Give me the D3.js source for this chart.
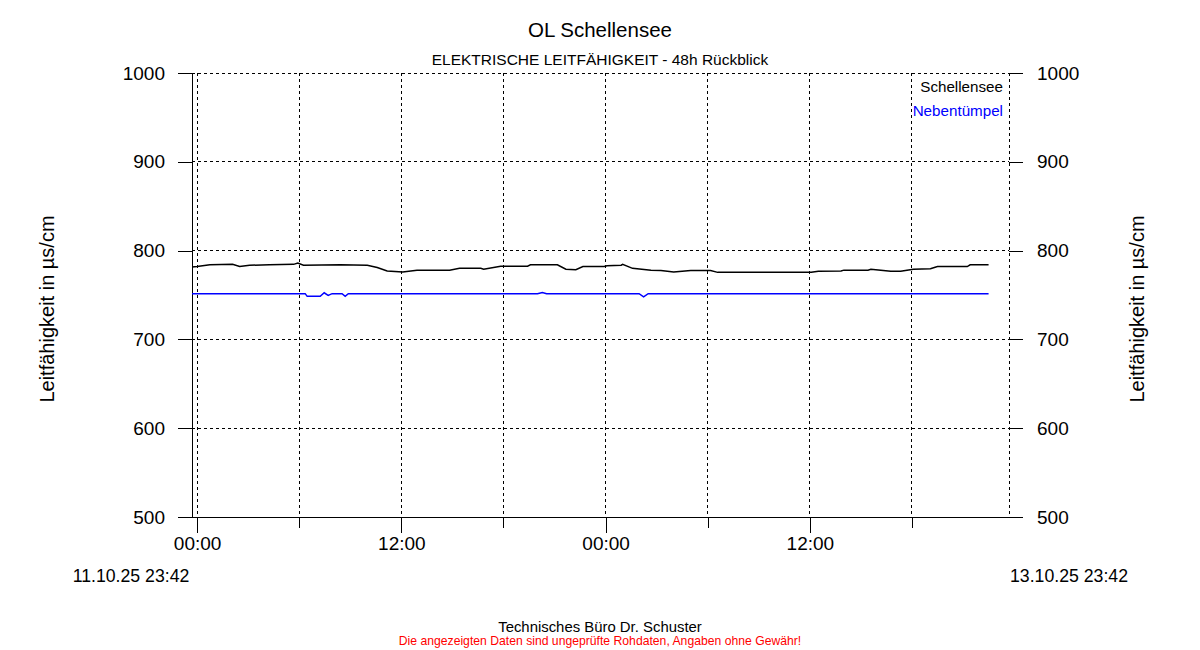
<!DOCTYPE html>
<html>
<head>
<meta charset="utf-8">
<script src="https://cdn.jsdelivr.net/npm/d3@7"></script>
<style>
  body { margin: 0; background: #fff; }
  svg { font-family: Arial, "Liberation Sans", sans-serif; }
  .grid line { stroke: #000; stroke-dasharray: 3,3; shape-rendering: crispEdges; }
  .axis path, .axis line { stroke: #000; shape-rendering: crispEdges; }
  .axis text { fill: #000; }
</style>
</head>
<body>
<div id="chart"></div>
<script>
// time range of the chart (48h look back)
let rangeStart = '2025-10-11T23:42';
let rangeEnd = '2025-10-13T23:42';

// Schellensee (black)
let schellenseeTimes = [
    '2025-10-11T23:42', '2025-10-12T00:00', '2025-10-12T00:45', '2025-10-12T02:05', '2025-10-12T02:30',
    '2025-10-12T03:05', '2025-10-12T04:15', '2025-10-12T05:40', '2025-10-12T05:55', '2025-10-12T06:15',
    '2025-10-12T08:25', '2025-10-12T10:00', '2025-10-12T10:35', '2025-10-12T11:10', '2025-10-12T12:05',
    '2025-10-12T12:55', '2025-10-12T14:50', '2025-10-12T15:25', '2025-10-12T16:40', '2025-10-12T16:50',
    '2025-10-12T17:50', '2025-10-12T19:25', '2025-10-12T19:35', '2025-10-12T21:10', '2025-10-12T21:40',
    '2025-10-12T22:15', '2025-10-12T22:40', '2025-10-12T23:55', '2025-10-13T00:05', '2025-10-13T00:55',
    '2025-10-13T01:00', '2025-10-13T01:35', '2025-10-13T02:40', '2025-10-13T03:15', '2025-10-13T04:00',
    '2025-10-13T05:00', '2025-10-13T06:10', '2025-10-13T06:35', '2025-10-13T08:30', '2025-10-13T12:05',
    '2025-10-13T12:30', '2025-10-13T13:50', '2025-10-13T14:00', '2025-10-13T15:25', '2025-10-13T15:35',
    '2025-10-13T16:10', '2025-10-13T16:45', '2025-10-13T17:20', '2025-10-13T18:05', '2025-10-13T19:05',
    '2025-10-13T19:30', '2025-10-13T21:15', '2025-10-13T21:25', '2025-10-13T22:30'
];
let schellenseeValues = [
    781.5, 782, 784, 784.5, 782,
    783.5, 784, 784.5, 786, 783.5,
    784, 783.5, 781, 777, 776,
    778, 778, 780, 780, 779,
    782.5, 782.5, 784, 784, 779,
    778.5, 782, 782, 783, 783.5,
    784.5, 780, 778, 777.5, 776,
    777.5, 777.5, 775.5, 775.5, 775.5,
    776.7, 777, 778, 778, 779,
    778, 776.7, 776.7, 779, 779.5,
    782, 782, 784, 784
];

// Nebentuempel (blue)
let nebenTimes = [
    '2025-10-11T23:42', '2025-10-12T06:21', '2025-10-12T06:28', '2025-10-12T07:14', '2025-10-12T07:28',
    '2025-10-12T07:42', '2025-10-12T07:56', '2025-10-12T08:31', '2025-10-12T08:42', '2025-10-12T08:53',
    '2025-10-12T20:00', '2025-10-12T20:17', '2025-10-12T20:32', '2025-10-13T01:58', '2025-10-13T02:14',
    '2025-10-13T02:30', '2025-10-13T22:30'
];
let nebenValues = [
    751.5, 751.5, 748.5, 748.5, 752.5,
    749.5, 751.5, 751.5, 748.5, 751.5,
    751.5, 752.8, 751.5, 751.5, 748,
    751.5, 751.5
];

let yTicks = [500, 600, 700, 800, 900, 1000];

let width = 1200, height = 650;
let plotLeft = 192, plotRight = 1009, plotTop = 73, plotBottom = 517;

let svg = d3.select('#chart')
    .append('svg')
    .attr('width', width)
    .attr('height', height);

let parse = d3.timeParse('%Y-%m-%dT%H:%M');

let x = d3.scaleTime()
    .domain([parse(rangeStart), parse(rangeEnd)])
    .range([plotLeft, plotRight]);
let y = d3.scaleLinear()
    .domain([500, 1000])
    .range([plotBottom, plotTop]);

let sixHours = x.ticks(d3.timeHour.every(6));
let twelveHours = x.ticks(d3.timeHour.every(12));

// grid
let grid = svg.append('g').attr('class', 'grid');
grid.selectAll('.v')
    .data(sixHours)
    .enter().append('line')
    .attr('x1', d => x(d)).attr('x2', d => x(d))
    .attr('y1', plotTop).attr('y2', plotBottom);
grid.append('line')
    .attr('x1', plotRight).attr('x2', plotRight)
    .attr('y1', plotTop).attr('y2', plotBottom);
grid.selectAll('.h')
    .data(yTicks.filter(d => d > 500))
    .enter().append('line')
    .attr('x1', plotLeft).attr('x2', plotRight)
    .attr('y1', d => y(d)).attr('y2', d => y(d));

// axes
let yLeft = svg.append('g')
    .attr('class', 'axis')
    .attr('transform', 'translate(' + plotLeft + ',0)')
    .call(d3.axisLeft(y).tickValues(yTicks).tickFormat(d3.format('d'))
        .tickSize(14).tickSizeOuter(0).tickPadding(13));
let yRight = svg.append('g')
    .attr('class', 'axis')
    .attr('transform', 'translate(' + plotRight + ',0)')
    .call(d3.axisRight(y).tickValues(yTicks).tickFormat(d3.format('d'))
        .tickSize(14).tickSizeOuter(0).tickPadding(14));
yRight.select('.domain').remove();
svg.selectAll('.axis text').style('font-size', '19px');

let xMinor = svg.append('g')
    .attr('class', 'axis')
    .attr('transform', 'translate(0,' + plotBottom + ')')
    .call(d3.axisBottom(x).tickValues(sixHours).tickSize(11).tickFormat(''));
xMinor.select('.domain').remove();
let xMajor = svg.append('g')
    .attr('class', 'axis')
    .attr('transform', 'translate(0,' + plotBottom + ')')
    .call(d3.axisBottom(x).tickValues(twelveHours).tickSize(16).tickPadding(4)
        .tickFormat(d3.timeFormat('%H:%M')));
xMajor.select('.domain').remove();
xMajor.selectAll('text').style('font-size', '19px');

svg.append('line')
    .attr('x1', 178).attr('x2', 1023)
    .attr('y1', plotBottom).attr('y2', plotBottom)
    .attr('stroke', '#000')
    .attr('shape-rendering', 'crispEdges');

// lines
let line = d3.line()
    .x(d => x(d.t))
    .y(d => y(d.v));

let blackData = schellenseeTimes.map((t, i) => ({ t: parse(t), v: schellenseeValues[i] }));
let blueData = nebenTimes.map((t, i) => ({ t: parse(t), v: nebenValues[i] }));

svg.append('path')
    .datum(blueData)
    .attr('d', line)
    .attr('fill', 'none')
    .attr('stroke', '#0000ff')
    .attr('stroke-width', 1.5);
svg.append('path')
    .datum(blackData)
    .attr('d', line)
    .attr('fill', 'none')
    .attr('stroke', '#000')
    .attr('stroke-width', 1.5);

// texts
svg.append('text')
    .attr('x', 600).attr('y', 37)
    .attr('text-anchor', 'middle')
    .style('font-size', '20.5px')
    .text('OL Schellensee');
svg.append('text')
    .attr('x', 600).attr('y', 65)
    .attr('text-anchor', 'middle')
    .style('font-size', '15.5px')
    .text('ELEKTRISCHE LEITFÄHIGKEIT - 48h Rückblick');

svg.append('text')
    .attr('x', 1003).attr('y', 92)
    .attr('text-anchor', 'end')
    .style('font-size', '15.2px')
    .text('Schellensee');
svg.append('text')
    .attr('x', 1003).attr('y', 116)
    .attr('text-anchor', 'end')
    .style('font-size', '15.2px')
    .attr('fill', '#0000ff')
    .text('Nebentümpel');

svg.append('text')
    .attr('transform', 'translate(54,309) rotate(-90)')
    .attr('text-anchor', 'middle')
    .style('font-size', '20px')
    .text('Leitfähigkeit in µs/cm');
svg.append('text')
    .attr('transform', 'translate(1144,309) rotate(-90)')
    .attr('text-anchor', 'middle')
    .style('font-size', '20px')
    .text('Leitfähigkeit in µs/cm');

svg.append('text')
    .attr('x', 131).attr('y', 582)
    .attr('text-anchor', 'middle')
    .style('font-size', '17.7px')
    .text('11.10.25 23:42');
svg.append('text')
    .attr('x', 1069).attr('y', 582)
    .attr('text-anchor', 'middle')
    .style('font-size', '17.7px')
    .text('13.10.25 23:42');

svg.append('text')
    .attr('x', 600).attr('y', 632)
    .attr('text-anchor', 'middle')
    .style('font-size', '14.9px')
    .text('Technisches Büro Dr. Schuster');
svg.append('text')
    .attr('x', 600).attr('y', 645)
    .attr('text-anchor', 'middle')
    .style('font-size', '12.2px')
    .attr('fill', '#ff0000')
    .text('Die angezeigten Daten sind ungeprüfte Rohdaten, Angaben ohne Gewähr!');
</script>
</body>
</html>
